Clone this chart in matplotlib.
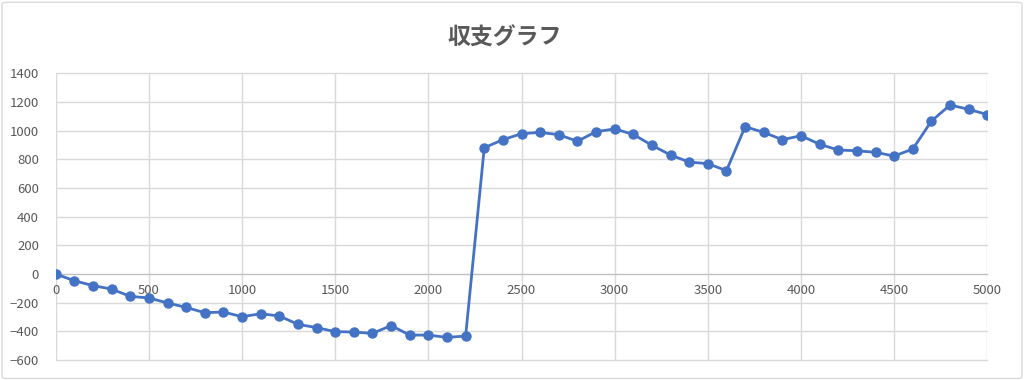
import matplotlib.pyplot as plt
from matplotlib.patches import FancyBboxPatch

plt.rcParams['font.family'] = ['Noto Sans CJK JP', 'DejaVu Sans']

games = list(range(0, 5001, 100))
balance = [0, -47, -81, -105, -156, -167, -202, -233, -270, -265,
           -298, -277, -293, -351, -374, -402, -405, -414, -360, -426,
           -426, -442, -433, 881, 937, 979, 988, 972, 926, 993,
           1012, 974, 898, 830, 781, 770, 721, 1028, 988, 937,
           965, 905, 865, 860, 849, 823, 872, 1067, 1179, 1149,
           1112]
title = '収支グラフ'
xticks = list(range(0, 5001, 500))
yticks = list(range(-600, 1401, 200))

fig = plt.figure(figsize=(10.24, 3.8), dpi=100)
fig.patches.append(FancyBboxPatch((0.002, 0.004), 0.996, 0.99, boxstyle='round,pad=0,rounding_size=0.005',
                                  transform=fig.transFigure, fill=False, edgecolor='#d9d9d9', linewidth=1))
ax = fig.add_axes([0.0544, 0.0526, 0.9098, 0.7544])

ax.plot(games, balance, color='#4472C4', linewidth=2, marker='o', markersize=6.5, zorder=3)

ax.set_xlim(0, 5000)
ax.set_ylim(-600, 1400)
ax.set_xticks(xticks)
ax.set_yticks(yticks)
ax.grid(True, color='#d9d9d9', linewidth=1)
for gl in ax.get_xgridlines() + ax.get_ygridlines():
    gl.set_clip_on(False)
ax.set_axisbelow(True)
for s in ['top', 'right', 'left']:
    ax.spines[s].set_visible(False)
ax.spines['bottom'].set_position(('data', 0))
ax.spines['bottom'].set_color('#bfbfbf')
ax.spines['bottom'].set_zorder(2)
ax.tick_params(length=0, colors='#595959', labelsize=9.5)
ax.tick_params(axis='x', pad=7)
ax.tick_params(axis='y', pad=12)

fig.text(0.493, 0.9, title, ha='center', va='center', fontsize=16.5, color='#595959', fontweight='bold')

fig.savefig('out.png', dpi=100)
